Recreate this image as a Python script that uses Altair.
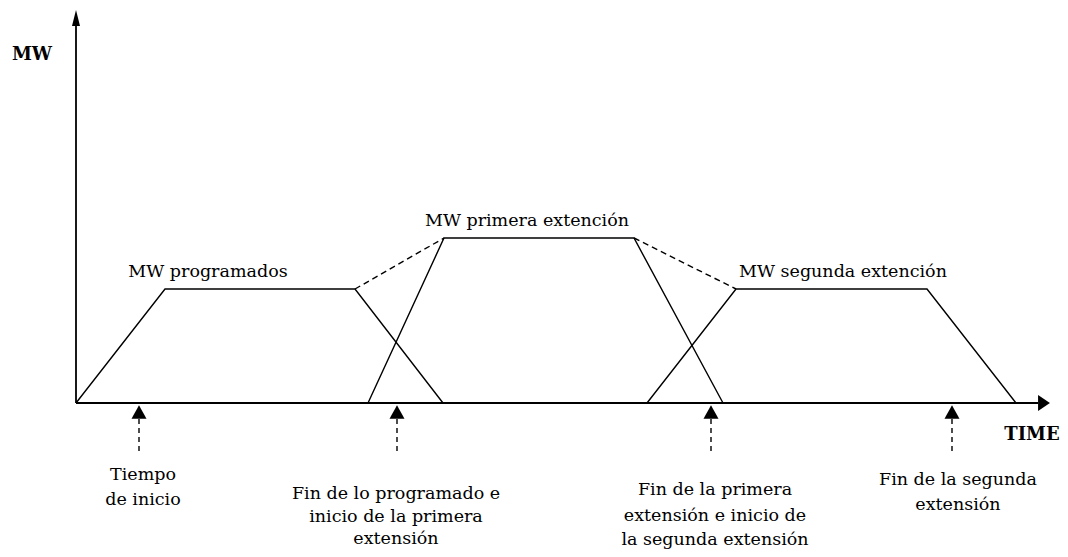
import altair as alt
import pandas as pd

# --- schematic values (time units, MW units) ---
series = (["MW programados"] * 4 + ["MW primera extención"] * 4 + ["MW segunda extención"] * 4)
t_vals = [0, 89, 279, 367, 292, 368, 558, 647, 571, 660, 851, 940]
mw_vals = [0, 114, 114, 0, 0, 165, 165, 0, 0, 114, 114, 0]

dash_group = ["a", "a", "b", "b"]
dash_t = [279, 368, 558, 660]
dash_mw = [114, 165, 165, 114]

curve_names = ["MW programados", "MW primera extención", "MW segunda extención"]
curve_name_t = [132, 451, 767]
curve_name_mw = [131, 182, 131]

marker_t = [63, 321, 635, 876]

label_text = ["Tiempo", "de inicio",
              "Fin de lo programado e", "inicio de la primera", "extensión",
              "Fin de la primera", "extensión e inicio de", "la  segunda extensión",
              "Fin de la segunda", "extensión"]
label_t = [67, 67, 320, 320, 320, 639, 639, 639, 882, 882]
label_mw = [-72, -97, -91, -114, -136, -87, -113, -137, -77, -102]

axis_title_text = ["MW", "TIME"]
axis_title_t = [-44, 956]
axis_title_mw = [348, -32]

x_axis_end = 962
x_arrow_t = 968
y_axis_end = 378
y_arrow_mw = 385

# --- tables ---
df_lines = pd.DataFrame({"series": series, "t": t_vals, "mw": mw_vals})
df_dash = pd.DataFrame({"g": dash_group, "t": dash_t, "mw": dash_mw})
df_names = pd.DataFrame({"name": curve_names, "t": curve_name_t, "mw": curve_name_mw})
df_markers = pd.DataFrame({"t": marker_t, "mw": [-9] * 4, "top": [-16] * 4, "bot": [-50] * 4})
df_labels = pd.DataFrame({"text": label_text, "t": label_t, "mw": label_mw})
df_titles = pd.DataFrame({"text": axis_title_text, "t": axis_title_t, "mw": axis_title_mw})
df_axes = pd.DataFrame({"x": [0, 0], "x2": [x_axis_end, 0], "y": [0, 0], "y2": [0, y_axis_end]})
df_arrows = pd.DataFrame({"t": [x_arrow_t, 0], "mw": [0, y_arrow_mw],
                          "shape": ["M0.74,0L-0.74,1L-0.74,-1Z", "M0,-1L0.5,1L-0.5,1Z"]})

xs = alt.Scale(domain=[-68, 984], nice=False, zero=False)
ys = alt.Scale(domain=[-146, 395], nice=False, zero=False)
FONT = "DejaVu Serif"

def X(f="t"):
    return alt.X(f"{f}:Q", scale=xs, axis=None)

def Y(f="mw"):
    return alt.Y(f"{f}:Q", scale=ys, axis=None)

axes = alt.Chart(df_axes).mark_rule(color="black", strokeWidth=1.8).encode(
    x=X("x"), x2="x2:Q", y=Y("y"), y2="y2:Q")

arrows = alt.Chart(df_arrows).mark_point(filled=True, color="black", opacity=1, size=256).encode(
    x=X(), y=Y(), shape=alt.Shape("shape:N", scale=None))

lines = alt.Chart(df_lines).mark_line(color="black", strokeWidth=1.4).encode(
    x=X(), y=Y(), detail="series:N", order="t:Q")

dashes = alt.Chart(df_dash).mark_line(color="black", strokeWidth=1.4, strokeDash=[6, 4]).encode(
    x=X(), y=Y(), detail="g:N")

marker_lines = alt.Chart(df_markers).mark_rule(color="black", strokeWidth=1.4, strokeDash=[5, 4]).encode(
    x=X(), y=Y("top"), y2="bot:Q")

marker_heads = alt.Chart(df_markers).mark_point(
    filled=True, color="black", opacity=1, size=225, shape="M0,-0.9L1,0.9L-1,0.9Z").encode(
    x=X(), y=Y())

names = alt.Chart(df_names).mark_text(font=FONT, fontSize=17.5, color="black",
                                      align="center", baseline="middle").encode(
    x=X(), y=Y(), text="name:N")

labels = alt.Chart(df_labels).mark_text(font=FONT, fontSize=17.5, color="black",
                                        align="center", baseline="middle").encode(
    x=X(), y=Y(), text="text:N")

titles = alt.Chart(df_titles).mark_text(font=FONT, fontSize=18, fontWeight="bold", color="black",
                                        align="center", baseline="middle").encode(
    x=X(), y=Y(), text="text:N")

chart = alt.layer(axes, lines, dashes, arrows, marker_lines, marker_heads, names, labels, titles).properties(
    width=1052, height=541, padding=0, autosize=alt.AutoSizeParams(type="none"),
    background="white"
).configure_view(stroke=None)

chart.save("out.html", embed_options={"renderer": "svg", "actions": False})
